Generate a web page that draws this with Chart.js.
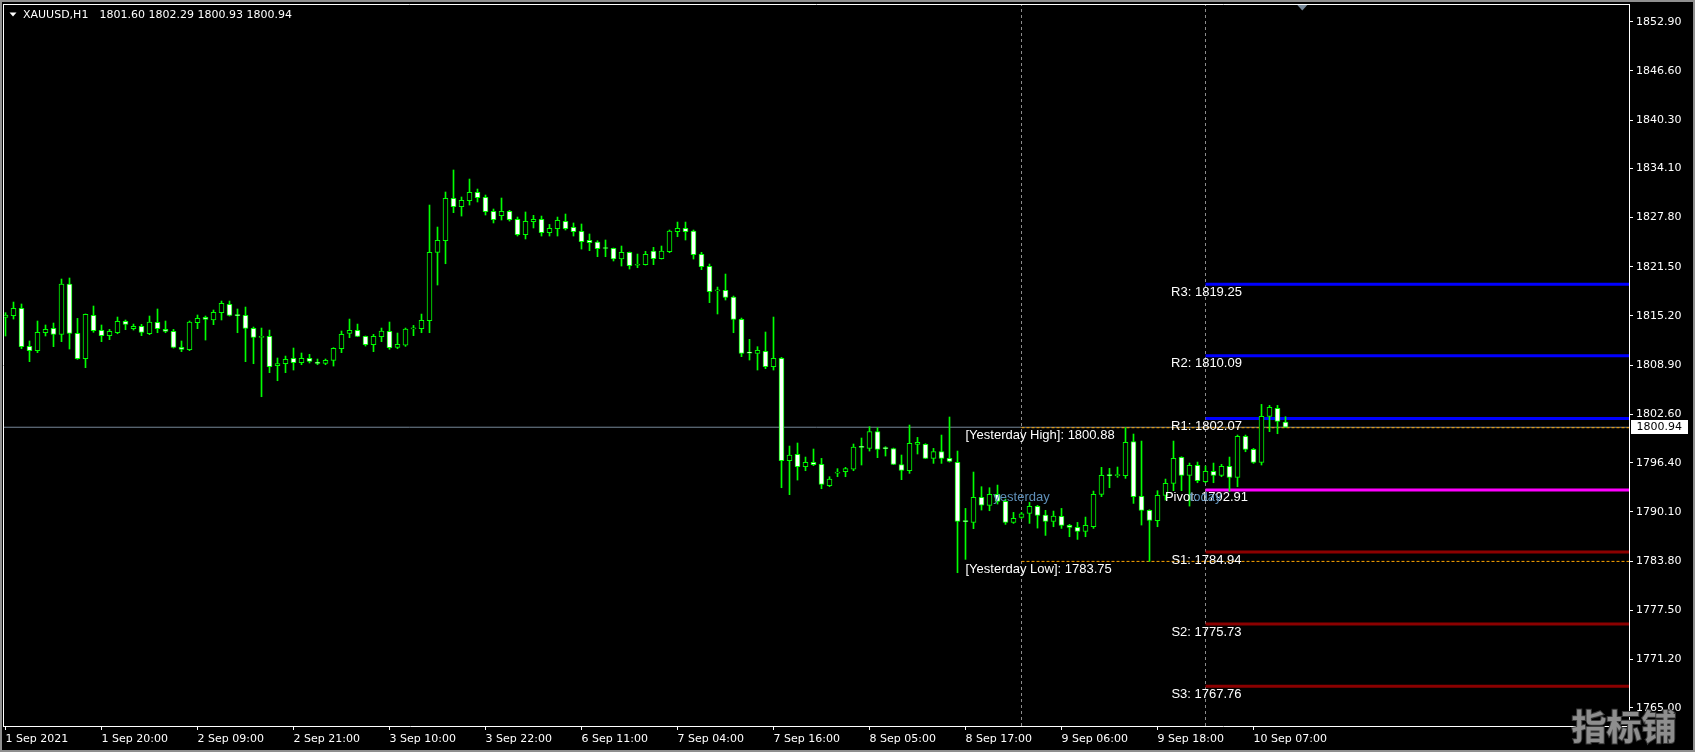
<!DOCTYPE html>
<html><head><meta charset="utf-8">
<script src="https://cdn.jsdelivr.net/npm/chart.js@4/dist/chart.umd.min.js"></script>
<style>html,body{margin:0;padding:0;background:#000;overflow:hidden}canvas{display:block}</style>
</head><body>
<canvas id="c" width="1695" height="752"></canvas>
<script>
// ---------- DATA ----------
const symbolTitle = 'XAUUSD,H1';
const opens = [1815.02,1815.23,1816.17,1811.30,1810.75,1813.05,1813.61,1812.84,1819.29,1812.97,
1809.72,1815.27,1813.35,1812.67,1813.05,1814.51,1813.57,1813.86,1812.92,1814.38,
1813.48,1813.22,1811.17,1810.87,1814.33,1815.02,1814.68,1815.62,1816.68,1815.27,
1815.27,1813.61,1812.45,1812.58,1808.82,1809.08,1809.76,1809.21,1809.76,1809.14,
1809.12,1809.51,1811.00,1812.97,1813.35,1812.58,1811.52,1812.54,1813.22,1811.17,
1811.47,1813.55,1813.57,1814.59,1823.35,1824.84,1830.27,1829.20,1829.97,1831.04,
1830.39,1828.60,1828.05,1828.60,1827.58,1825.61,1827.28,1827.58,1825.87,1826.38,
1827.32,1826.55,1826.04,1824.88,1824.67,1823.86,1823.86,1822.49,1823.35,1821.70,
1821.77,1823.52,1822.54,1823.43,1826.00,1826.42,1826.08,1823.09,1821.55,1818.41,
1818.48,1817.62,1814.76,1810.45,1810.40,1810.66,1808.70,1809.76,1796.65,1797.46,
1795.88,1796.44,1796.18,1793.45,1795.07,1795.24,1795.58,1798.38,1798.23,1800.37,
1798.23,1798.19,1796.14,1795.37,1798.74,1798.74,1796.95,1797.81,1796.95,1796.44,
1788.86,1788.75,1791.95,1790.93,1792.34,1791.44,1788.75,1789.39,1789.90,1790.80,
1789.69,1788.88,1789.52,1788.37,1788.11,1787.60,1788.19,1792.34,1794.75,1794.73,
1794.73,1799.09,1792.08,1790.29,1788.96,1792.21,1793.75,1797.08,1794.77,1796.05,
1793.96,1795.28,1794.77,1795.92,1794.52,1799.77,1798.10,1796.44,1802.33,1803.36,
1801.60];
const highs = [1815.62,1816.98,1816.73,1811.99,1814.55,1814.04,1814.29,1819.93,1820.06,1814.89,
1815.45,1816.47,1814.04,1813.48,1815.06,1814.68,1814.16,1814.12,1815.19,1816.09,
1814.55,1813.48,1811.99,1814.55,1815.32,1815.19,1815.96,1817.11,1817.11,1816.09,
1816.34,1813.78,1813.65,1813.39,1809.81,1810.06,1811.09,1810.45,1810.28,1809.68,
1809.68,1811.13,1813.27,1814.80,1814.16,1812.63,1812.84,1813.65,1814.42,1813.01,
1813.65,1813.99,1815.44,1829.41,1826.59,1831.08,1833.90,1830.44,1832.74,1831.46,
1830.69,1828.90,1830.31,1828.73,1827.87,1828.52,1828.09,1828.00,1826.93,1827.87,
1828.26,1827.11,1826.98,1825.70,1824.84,1824.93,1823.90,1824.16,1823.39,1823.13,
1823.48,1823.99,1824.16,1826.21,1827.23,1827.23,1826.21,1823.35,1821.85,1818.90,
1820.57,1817.75,1814.93,1812.20,1811.26,1813.14,1815.06,1809.89,1798.53,1798.92,
1797.12,1798.15,1796.95,1794.60,1795.63,1795.80,1798.79,1799.56,1801.01,1800.88,
1798.45,1798.27,1797.38,1801.22,1799.64,1798.83,1798.23,1799.94,1802.25,1797.89,
1790.54,1795.20,1793.32,1793.19,1793.53,1791.74,1790.03,1790.03,1791.31,1790.93,
1790.29,1790.20,1790.54,1788.49,1788.75,1789.43,1792.76,1795.80,1795.67,1795.84,
1800.88,1800.07,1799.17,1790.37,1792.81,1794.30,1799.17,1797.16,1796.35,1796.48,
1795.97,1796.35,1796.18,1797.12,1799.94,1799.94,1798.23,1803.87,1803.74,1803.74,
1802.29];
const lows = [1812.63,1814.80,1811.00,1809.34,1810.49,1812.63,1811.26,1811.90,1810.96,1809.64,
1808.57,1813.10,1811.90,1812.16,1812.92,1813.44,1813.39,1812.67,1812.80,1813.05,
1813.05,1811.09,1810.62,1810.75,1813.57,1812.11,1814.08,1814.68,1815.19,1813.05,
1809.34,1809.08,1804.85,1807.93,1806.90,1807.93,1808.27,1808.95,1809.17,1808.95,
1808.95,1808.78,1810.49,1812.41,1812.54,1811.34,1810.62,1811.90,1810.92,1811.00,
1811.30,1812.67,1813.05,1813.05,1819.16,1821.89,1828.43,1828.00,1829.41,1829.80,
1828.13,1827.11,1827.49,1827.36,1825.44,1825.06,1826.47,1825.44,1825.44,1825.44,
1826.21,1825.44,1823.77,1823.56,1822.79,1822.79,1822.24,1821.60,1821.21,1821.38,
1821.72,1821.77,1822.49,1823.30,1825.35,1824.93,1822.49,1821.13,1816.90,1815.45,
1817.24,1813.05,1809.98,1809.55,1808.27,1808.44,1808.27,1793.19,1792.30,1794.17,
1795.37,1796.01,1793.06,1793.32,1794.60,1794.60,1795.37,1796.10,1797.89,1797.04,
1797.25,1796.14,1794.22,1795.03,1797.51,1796.91,1796.31,1796.31,1796.48,1782.30,
1784.01,1787.94,1790.33,1790.24,1791.10,1788.49,1788.62,1789.26,1788.62,1788.02,
1787.08,1788.19,1787.98,1786.91,1786.57,1786.91,1787.98,1792.04,1793.19,1794.52,
1794.39,1791.18,1788.41,1783.75,1788.19,1791.61,1792.81,1792.81,1790.84,1793.83,
1793.83,1793.83,1794.60,1792.76,1793.32,1797.80,1796.31,1796.10,1800.37,1800.11,
1800.93];
const closes = [1815.32,1816.17,1811.26,1810.75,1813.10,1813.48,1812.84,1819.29,1812.97,1809.72,
1815.40,1813.31,1812.67,1813.22,1814.51,1814.12,1813.86,1813.10,1814.42,1813.57,
1813.22,1811.17,1810.92,1814.42,1814.89,1814.76,1815.66,1816.81,1815.27,1815.25,
1813.61,1812.45,1812.54,1808.70,1809.08,1809.64,1809.21,1809.76,1809.38,1809.12,
1809.51,1811.05,1812.84,1813.35,1812.58,1811.52,1812.58,1813.27,1811.13,1811.56,
1813.52,1813.57,1814.63,1823.35,1824.88,1830.27,1829.20,1830.01,1831.04,1830.35,
1828.56,1827.53,1828.60,1827.53,1825.61,1827.32,1827.58,1825.87,1826.42,1827.45,
1826.38,1826.00,1824.71,1824.59,1823.82,1823.84,1822.49,1823.35,1821.64,1821.72,
1823.09,1822.54,1823.52,1826.08,1826.42,1826.00,1823.05,1821.51,1818.31,1818.43,
1817.58,1814.76,1810.40,1810.43,1810.79,1808.70,1809.76,1796.65,1797.38,1795.88,
1796.44,1796.14,1793.62,1794.30,1795.16,1795.63,1798.40,1798.36,1800.37,1798.10,
1798.20,1796.18,1795.41,1798.87,1799.00,1796.95,1797.81,1796.95,1796.57,1788.88,
1788.84,1791.95,1790.97,1792.34,1791.44,1788.75,1789.26,1789.86,1790.80,1789.65,
1788.88,1789.56,1788.37,1788.11,1787.60,1788.37,1792.34,1794.77,1794.73,1794.75,
1799.00,1792.04,1790.29,1789.01,1792.21,1793.75,1796.95,1794.77,1796.05,1794.10,
1795.28,1794.77,1795.92,1794.52,1799.77,1798.10,1796.44,1802.33,1803.49,1801.69,
1800.94];

const xTickBars = [0,12,24,36,48,60,72,84,96,108,120,132,144,156];
const xTickLabels = ['1 Sep 2021','1 Sep 20:00','2 Sep 09:00','2 Sep 21:00','3 Sep 10:00','3 Sep 22:00',
  '6 Sep 11:00','7 Sep 04:00','7 Sep 16:00','8 Sep 05:00','8 Sep 17:00','9 Sep 06:00','9 Sep 18:00','10 Sep 07:00'];
const yTickValues = [1852.90,1846.60,1840.30,1834.10,1827.80,1821.50,1815.20,1808.90,1802.60,
  1796.40,1790.10,1783.80,1777.50,1771.20,1765.00];

const pivotNames  = ['R3','R2','R1','Pivot','S1','S2','S3'];
const pivotValues = [1819.25,1810.09,1802.07,1792.91,1784.94,1775.73,1767.76];
const yesterdayHigh = 1800.88;
const yesterdayLow  = 1783.75;
const bidPrice = 1800.94;
const yesterdayStartBar = 127;
const todayStartBar = 150;
const yesterdayLabelBar = 120;

// ---------- CHART ----------
const Y_MIN = 1762.66, Y_MAX = 1855.04;
const X_MIN = -0.1875, X_MAX = X_MIN + 203.125;
const FAR = X_MAX + 10;

const bodyData = opens.map((o, i) => ({ x: i, y: [o, closes[i]] }));
const wickData = highs.map((h, i) => ({ x: i, y: [lows[i], h] }));
const bodyFill = opens.map((o, i) => closes[i] >= o ? '#000000' : '#FFFFFF');

function hLine(v, from, color, width, dash, order) {
  return { type: 'line', data: [{ x: from, y: v }, { x: FAR, y: v }], borderColor: color,
    borderWidth: width, borderDash: dash || [], pointRadius: 0, fill: false, clip: 0,
    order: order, tension: 0 };
}
function vLine(xv) {
  return { type: 'line', data: [{ x: xv, y: Y_MIN }, { x: xv, y: Y_MAX }], borderColor: '#8c8c8c',
    borderWidth: 1, borderDash: [3, 3], pointRadius: 0, fill: false, clip: 0, order: 9 };
}
const pivotColors = ['#0000FF','#0000FF','#0000FF','#FF00FF','#8B0000','#8B0000','#8B0000'];

const datasets = [
  { type: 'bar', data: bodyData, backgroundColor: bodyFill, borderColor: '#00FF00', borderWidth: 1,
    borderSkipped: false, barThickness: 5, minBarLength: 1, grouped: false, order: 0, clip: 0 },
  { type: 'bar', data: wickData, backgroundColor: '#00FF00', borderWidth: 0, barThickness: 1,
    grouped: false, order: 1, clip: 0 },
  vLine(yesterdayStartBar), vLine(todayStartBar),
  { type: 'line', data: [{ x: X_MIN - 5, y: bidPrice }, { x: FAR, y: bidPrice }], borderColor: '#778899',
    borderWidth: 1, pointRadius: 0, fill: false, clip: 0, order: 8 },
  hLine(yesterdayHigh, yesterdayStartBar, '#FFA500', 1, [3, 2], 7),
  hLine(yesterdayLow, yesterdayStartBar, '#FFA500', 1, [3, 2], 7),
  ...pivotValues.map((v, k) => hLine(v, todayStartBar, pivotColors[k], 3, [], 6))
];

const overlay = {
  id: 'overlay',
  beforeDraw(chart) {
    const c = chart.ctx;
    c.save();
    c.fillStyle = '#000'; c.fillRect(0, 0, chart.width, chart.height);
    c.restore();
  },
  afterDatasetsDraw(chart) {
    const c = chart.ctx, xs = chart.scales.x, ys = chart.scales.y;
    c.save();
    c.font = '13px "Liberation Sans", Arial, sans-serif';
    c.textBaseline = 'middle';
    c.textAlign = 'center';
    c.fillStyle = '#FFFFFF';
    pivotValues.forEach((v, k) => {
      c.fillText(pivotNames[k] + ': ' + v.toFixed(2), xs.getPixelForValue(todayStartBar) + 1, ys.getPixelForValue(v) + 8);
    });
    c.fillStyle = '#5E8FB8';
    c.fillText('yesterday', xs.getPixelForValue(yesterdayStartBar), ys.getPixelForValue(pivotValues[3]) + 8);
    c.fillText('today', xs.getPixelForValue(todayStartBar), ys.getPixelForValue(pivotValues[3]) + 8);
    c.textAlign = 'left';
    c.fillStyle = '#FFFFFF';
    c.fillText('[Yesterday High]: ' + yesterdayHigh.toFixed(2), xs.getPixelForValue(yesterdayLabelBar), ys.getPixelForValue(yesterdayHigh) + 8);
    c.fillText('[Yesterday Low]: ' + yesterdayLow.toFixed(2), xs.getPixelForValue(yesterdayLabelBar), ys.getPixelForValue(yesterdayLow) + 8);
    c.restore();
  },
  afterDraw(chart) {
    const c = chart.ctx, a = chart.chartArea, ys = chart.scales.y, xs = chart.scales.x;
    c.save();
    c.strokeStyle = '#FFFFFF'; c.lineWidth = 1;
    c.beginPath();
    c.moveTo(a.left - 1, a.top - 0.5); c.lineTo(a.right + 1, a.top - 0.5);
    c.moveTo(a.left - 0.5, a.top - 1); c.lineTo(a.left - 0.5, a.bottom + 1);
    c.stroke();
    c.fillStyle = '#8f8f8f';
    c.fillRect(0, 0, chart.width, 2); c.fillRect(0, chart.height - 2, chart.width, 2);
    c.fillRect(0, 0, 2, chart.height); c.fillRect(chart.width - 2, 0, 2, chart.height);
    c.fillStyle = '#FFFFFF';
    c.beginPath(); c.moveTo(9.5, 12.5); c.lineTo(16.5, 12.5); c.lineTo(13, 16.5); c.closePath(); c.fill();
    c.font = '11px "DejaVu Sans", sans-serif';
    c.textBaseline = 'middle'; c.textAlign = 'left';
    c.fillText(symbolTitle, 23, 15);
    c.fillText([opens[opens.length-1], highs[highs.length-1], lows[lows.length-1], closes[closes.length-1]].map(v => v.toFixed(2)).join(' '), 99.5, 15);
    const mx = xs.getPixelForValue(162.1);
    c.fillStyle = '#778899';
    c.beginPath(); c.moveTo(mx - 5, a.top); c.lineTo(mx + 5, a.top); c.lineTo(mx, a.top + 5.5); c.closePath(); c.fill();
    const by = ys.getPixelForValue(bidPrice);
    c.fillStyle = '#FFFFFF';
    c.fillRect(a.right + 2, Math.round(by) - 7, 57, 14);
    c.fillStyle = '#000000';
    c.fillText(bidPrice.toFixed(2), a.right + 7.5, by);
    c.font = 'bold 35px "Noto Sans CJK SC", sans-serif';
    c.textAlign = 'center';
    c.lineWidth = 2; c.strokeStyle = '#3a3a3a';
    c.strokeText('指标铺', 1624, 727);
    c.fillStyle = '#8e8e8e';
    c.fillText('指标铺', 1624, 727);
    c.restore();
  }
};

new Chart(document.getElementById('c'), {
  type: 'bar',
  data: { datasets },
  options: {
    responsive: false, animation: false, devicePixelRatio: 1,
    layout: { padding: { left: 4, top: 5, right: 0, bottom: 0 } },
    plugins: { legend: { display: false }, tooltip: { enabled: false } },
    scales: {
      x: {
        type: 'linear', min: X_MIN, max: X_MAX, offset: false,
        afterBuildTicks: s => { s.ticks = xTickBars.map(v => ({ value: v })); },
        afterFit: s => { s.height = 26; s.paddingLeft = 0; s.paddingRight = 0; },
        ticks: { callback: v => xTickLabels[xTickBars.indexOf(v)], align: 'start', color: '#FFFFFF',
          font: { family: 'DejaVu Sans', size: 11 }, padding: 3, autoSkip: false, maxRotation: 0, minRotation: 0 },
        grid: { drawOnChartArea: false, drawTicks: true, tickLength: 4, color: '#FFFFFF', offset: false },
        border: { color: '#FFFFFF', width: 1 }
      },
      y: {
        type: 'linear', position: 'right', min: Y_MIN, max: Y_MAX, beginAtZero: false,
        afterBuildTicks: s => { s.ticks = yTickValues.map(v => ({ value: v })); },
        afterFit: s => { s.width = 66; s.paddingTop = 0; s.paddingBottom = 0; },
        ticks: { callback: v => Number(v).toFixed(2), color: '#FFFFFF',
          font: { family: 'DejaVu Sans', size: 11 }, padding: 3, autoSkip: false },
        grid: { drawOnChartArea: false, drawTicks: true, tickLength: 4, color: '#FFFFFF' },
        border: { color: '#FFFFFF', width: 1 }
      }
    }
  },
  plugins: [overlay]
});
</script>
</body></html>
